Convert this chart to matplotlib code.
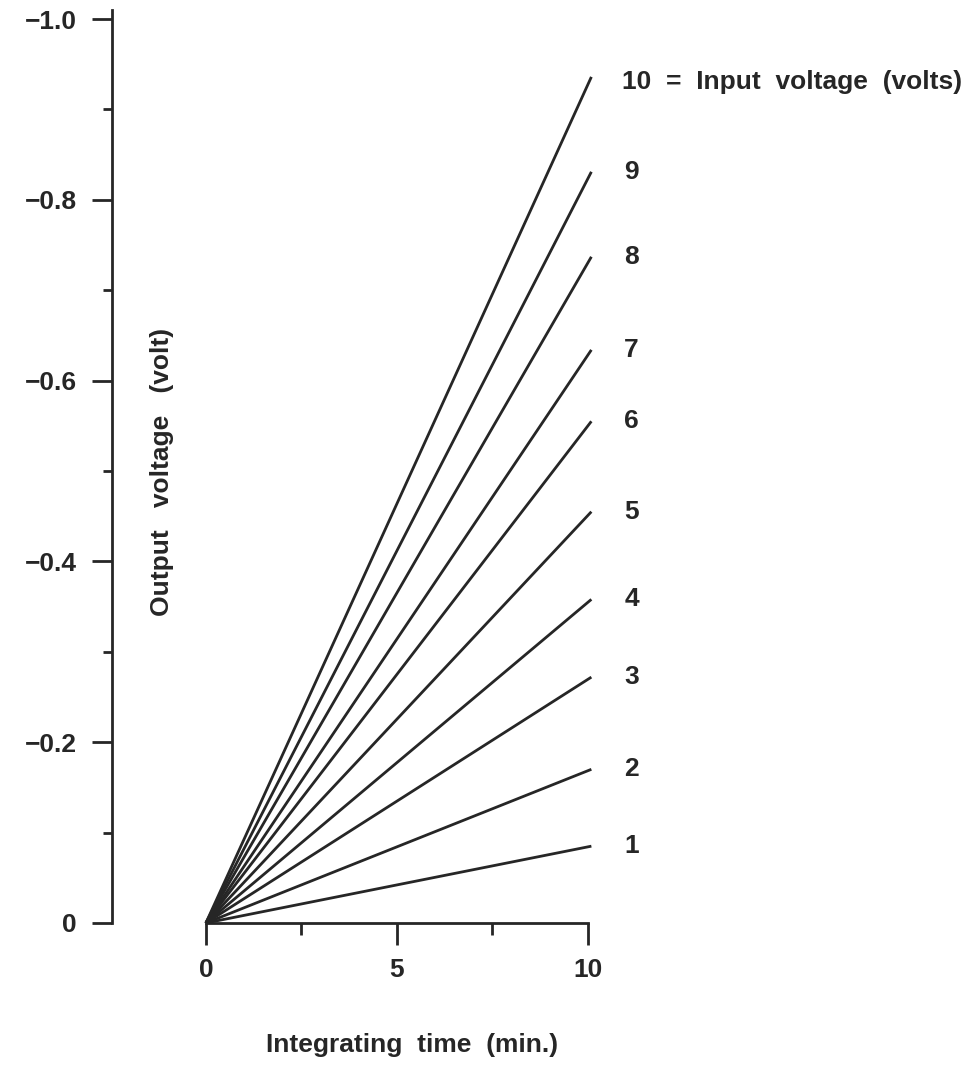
"""
Integrator output voltage against integrating time,
one line for each input voltage.
"""

import numpy as np
import matplotlib
matplotlib.use("Agg")
import matplotlib.pyplot as plt
from matplotlib.ticker import FixedLocator

# data
inputVolts = [1, 2, 3, 4, 5, 6, 7, 8, 9, 10]
timeStart = 0.0
timeEnd = 10.1
outputStart = 0.0
outputEnd = [-0.085, -0.170, -0.272, -0.358, -0.455,
             -0.555, -0.634, -0.737, -0.831, -0.936]

xMajor = [0, 5, 10]
xMinor = [2.5, 7.5]
yMajor = [0, -0.2, -0.4, -0.6, -0.8, -1.0]
yMinor = [-0.1, -0.3, -0.5, -0.7, -0.9]

ink = "#262626"
plt.rcParams['font.family'] = ['Liberation Sans', 'DejaVu Sans']
plt.rcParams['font.weight'] = 'bold'
fontSize = 19

fig = plt.figure(figsize=(9.76, 10.78), dpi=100)
W, H = 976, 1078
ax = fig.add_axes([112 / W, (H - 923) / H, 487 / W, 913 / H])

# one straight line per input voltage
for volts, yEnd in zip(inputVolts, outputEnd):
    ax.plot([timeStart, timeEnd], [outputStart, yEnd], color=ink,
            lw=2.0, solid_capstyle='butt', clip_on=False)
    if volts == 10:
        ax.annotate("10  =  Input  voltage  (volts)", xy=(timeEnd, yEnd),
                    xytext=(22, -4), textcoords='offset points',
                    ha='left', va='center', fontsize=fontSize, color=ink)
    else:
        ax.annotate(str(volts), xy=(timeEnd, yEnd),
                    xytext=(29, 0), textcoords='offset points',
                    ha='center', va='center', fontsize=fontSize, color=ink)

ax.set_xlim(-2.46, 10.3)
ax.set_ylim(0, -1.01)

for side in ['top', 'right']:
    ax.spines[side].set_visible(False)
ax.spines['left'].set_linewidth(2.0)
ax.spines['left'].set_color(ink)
ax.spines['bottom'].set_linewidth(2.0)
ax.spines['bottom'].set_color(ink)
ax.spines['bottom'].set_bounds(0, 10)

ax.xaxis.set_major_locator(FixedLocator(xMajor))
ax.xaxis.set_minor_locator(FixedLocator(xMinor))
ax.yaxis.set_major_locator(FixedLocator(yMajor))
ax.yaxis.set_minor_locator(FixedLocator(yMinor))
ax.set_xticklabels(["0", "5", "10"])
ax.set_yticklabels(["0", "\u22120.2", "\u22120.4", "\u22120.6", "\u22120.8", "\u22121.0"])

ax.tick_params(axis='x', which='major', direction='out', length=16, width=2.0,
               color=ink, labelsize=fontSize, labelcolor=ink, pad=9)
ax.tick_params(axis='x', which='minor', direction='out', length=8.5, width=2.0,
               color=ink)
ax.tick_params(axis='y', which='major', direction='out', length=14.5, width=2.0,
               color=ink, labelsize=fontSize, labelcolor=ink, pad=11)
ax.tick_params(axis='y', which='minor', direction='out', length=6.5, width=2.0,
               color=ink)

fig.text(412 / W, 1 - 1045 / H, "Integrating  time  (min.)", ha='center',
         va='center', fontsize=fontSize, color=ink)
fig.text(162 / W, 1 - 472 / H, "Output   voltage   (volt)", ha='center',
         va='center', rotation=90, fontsize=fontSize, color=ink)

fig.savefig("out.png", dpi=100, facecolor='white')
